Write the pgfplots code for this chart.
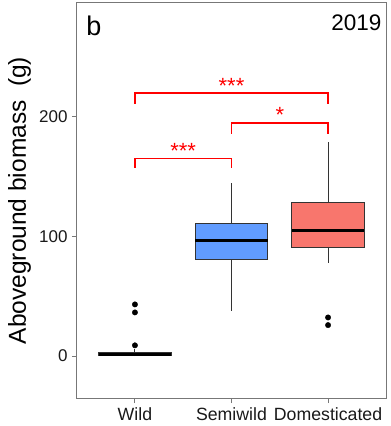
\documentclass[border=0pt]{standalone}
\usepackage{fontspec}
\setmainfont{Liberation Sans}
\usepackage{pgfplots}
\pgfplotsset{compat=1.18}
\definecolor{semicol}{HTML}{619CFF}
\definecolor{domcol}{HTML}{F8766D}
\definecolor{boxlinecol}{HTML}{333333}
\definecolor{framecol}{HTML}{777777}
\begin{document}
\begin{tikzpicture}
\useasboundingbox (0pt,0pt) rectangle (391pt,426pt);
\begin{axis}[
  at={(77pt,28pt)}, anchor=south west,
  scale only axis, width=309pt, height=395pt,
  xmin=0.4, xmax=3.6, ymin=-35, ymax=295,
  xtick={1,2,3}, xticklabels={Wild,Semiwild,Domesticated},
  ytick={0,100,200},
  tick align=outside, tick pos=left,
  axis line style={framecol, line width=1pt},
  major tick style={framecol, line width=1pt},
  major tick length=5pt,
  /pgf/number format/assume math mode=true,
  yticklabel style={font=\fontsize{17}{17}\selectfont, text=black!90, xshift=-1pt},
  xticklabel style={font=\fontsize{17.7}{17.7}\selectfont, text=black!90, yshift=-1pt},
  ylabel={Aboveground biomass\ \ (g)},
  ylabel style={font=\fontsize{24.5}{24.5}\selectfont, at={(axis description cs:-0.186,0.5)}, anchor=center},
  clip=false,
]
% whiskers
\addplot[boxlinecol, line width=1.1pt, mark=none] coordinates {(1,0) (1,6)};
\addplot[boxlinecol, line width=1.1pt, mark=none] coordinates {(2,37.9) (2,144.8)};
\addplot[boxlinecol, line width=1.1pt, mark=none] coordinates {(3,78) (3,178.8)};
% boxes
\addplot[draw=boxlinecol, fill=white, line width=1.1pt, mark=none] coordinates {(0.625,0.5) (1.375,0.5) (1.375,3) (0.625,3)} -- cycle;
\addplot[draw=boxlinecol, fill=semicol, line width=1.1pt, mark=none] coordinates {(1.625,80.6) (2.375,80.6) (2.375,110.5) (1.625,110.5)} -- cycle;
\addplot[draw=boxlinecol, fill=domcol, line width=1.1pt, mark=none] coordinates {(2.625,91) (3.375,91) (3.375,128.3) (2.625,128.3)} -- cycle;
% medians
\addplot[black, line width=3pt, mark=none] coordinates {(0.625,1.5) (1.375,1.5)};
\addplot[black, line width=3pt, mark=none] coordinates {(1.625,96.5) (2.375,96.5)};
\addplot[black, line width=3pt, mark=none] coordinates {(2.625,104.9) (3.375,104.9)};
% outliers
\addplot[only marks, mark=*, mark size=2.7pt, black] coordinates {(1,43.2) (1,36.5) (1,9) (3,32.3) (3,25.9)};
% significance brackets
\addplot[red, line width=1.5pt, sharp plot, mark=none] coordinates {(1,157.3) (1,165) (2,165) (2,157.3)};
\addplot[red, line width=1.5pt, sharp plot, mark=none] coordinates {(2,185.8) (2,194.7) (3,194.7) (3,185.8)};
\addplot[red, line width=1.5pt, sharp plot, mark=none] coordinates {(1,211) (1,219.8) (3,219.8) (3,211)};
\node[red, font=\fontsize{22}{22}\selectfont, anchor=center] at (axis cs:1.5,171) {***};
\node[red, font=\fontsize{22}{22}\selectfont, anchor=center] at (axis cs:2.5,201.5) {*};
\node[red, font=\fontsize{22}{22}\selectfont, anchor=center] at (axis cs:2,226) {***};
\node[font=\fontsize{27}{27}\selectfont, anchor=base west, inner sep=0pt] at (axis cs:0.495,268) {b};
\node[font=\fontsize{22.5}{22.5}\selectfont, anchor=base east, inner sep=0pt] at (axis cs:3.554,272) {2019};
\end{axis}
\end{tikzpicture}
\end{document}
